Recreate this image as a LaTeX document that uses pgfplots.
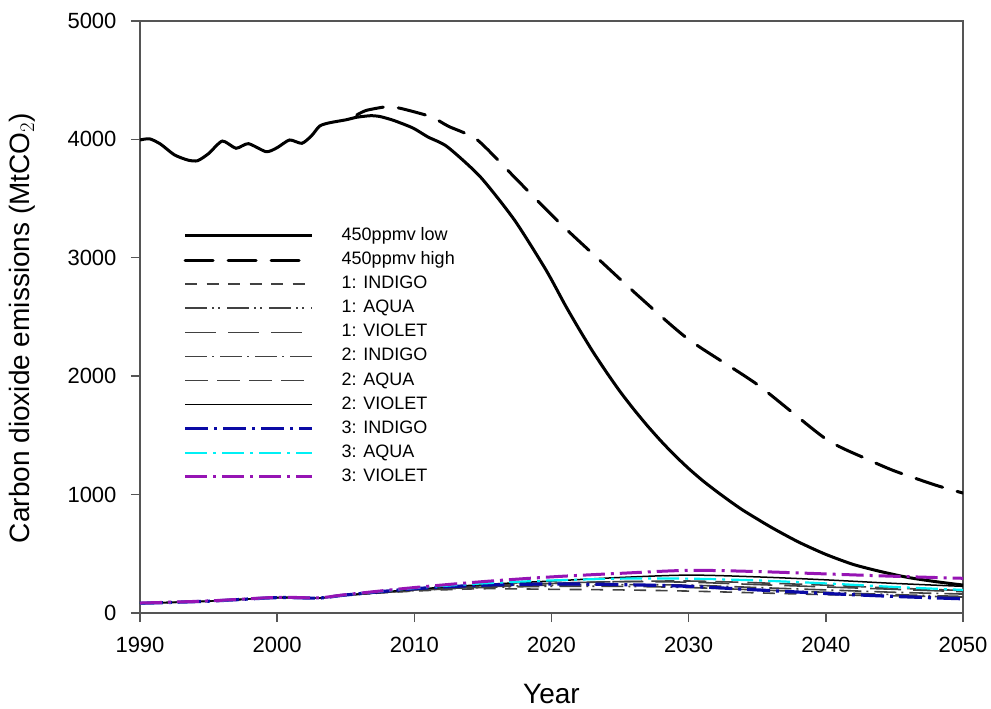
\documentclass[border=0pt]{standalone}
\usepackage{pgfplots}
\pgfplotsset{compat=1.18}
\usepackage{fontspec}
\setmainfont{Liberation Sans}
\definecolor{axgray}{RGB}{85,85,85}
\definecolor{lgray}{RGB}{65,65,65}
\definecolor{cindigo}{RGB}{10,10,165}
\definecolor{caqua}{RGB}{0,240,245}
\definecolor{cviolet}{RGB}{150,20,180}
\begin{document}
\begin{tikzpicture}
\begin{axis}[
  scale only axis,
  width=823pt, height=592pt,
  xmin=1990, xmax=2050, ymin=0, ymax=5000,
  xtick={1990,2000,...,2050}, ytick={0,1000,...,5000},
  xtick pos=bottom, ytick pos=left,
  tick align=outside, major tick length=9pt,
  axis line style={axgray, line width=1.4pt},
  every tick/.style={axgray, line width=1.4pt},
  /pgf/number format/assume math mode=true,
  /pgf/number format/1000 sep={},
  tick label style={font=\fontsize{22}{26}\selectfont},
  xticklabel style={yshift=-12pt},
  yticklabel style={xshift=-11pt},
  every axis x label/.style={at={(axis description cs:0.5,0)}, anchor=base, yshift=-91pt},
  every axis y label/.style={at={(axis description cs:0,0.5)}, xshift=-118pt, yshift=-11pt, rotate=90, anchor=center},
  label style={font=\fontsize{28}{32}\selectfont},
  xlabel={Year},
  ylabel={Carbon dioxide emissions (MtCO$_2$)},
  legend cell align=left,
  legend image code/.code={\draw[#1] (0pt,0pt) -- (127pt,0pt);},
  legend style={at={(rel axis cs:0.049,0.655)}, anchor=north west, draw=none, fill=none,
    font=\fontsize{18}{20}\selectfont, row sep=7.1pt, column sep=28pt,
    nodes={inner sep=0pt, text height=13pt, text depth=4pt}},
]
% 450ppmv low (historical + low)
\addplot[black, line width=3pt, smooth, tension=0.4] coordinates {
(1990,3995) (1990.7,4005) (1991.5,3960) (1992.5,3870) (1993.5,3825) (1994.2,3820)
(1995,3880) (1996,3986) (1997,3925) (1997.9,3964) (1999.2,3896) (2000,3930)
(2000.9,3995) (2001.8,3967) (2002.5,4030) (2003.1,4113) (2003.8,4140) (2005,4165)
(2005.8,4187) (2006.8,4200) (2007.5,4193) (2008.5,4160) (2009.9,4096) (2011,4020)
(2012.4,3938) (2014.8,3685) (2017.3,3319) (2019.6,2897) (2021,2600) (2022,2400)
(2023,2210) (2024,2035) (2025,1870) (2026,1720) (2027,1580) (2028,1450) (2029,1330)
(2030,1220) (2031,1120) (2032,1030) (2033,945) (2034,865) (2036,725) (2038,600)
(2040,495) (2042,410) (2044,350) (2046,300) (2048,265) (2050,236)};
\addlegendentry{450ppmv low}
% 450ppmv high
\addplot[black, line width=3pt, line cap=round, dash pattern=on 28pt off 15pt, smooth, tension=0.4] coordinates {
(2005.8,4206) (2006.5,4245) (2008,4276) (2009,4262) (2011.2,4192) (2012.5,4110)
(2014.6,3995) (2017.5,3657) (2020.6,3294) (2023.5,2981) (2026.4,2671) (2030,2310)
(2035,1930) (2040,1470) (2043,1300) (2045,1200) (2048,1080) (2050,1013)};
\addlegendentry{450ppmv high}
% 1: INDIGO
\addplot[lgray, line width=1.6pt, dash pattern=on 12pt off 9.5pt, smooth] coordinates {
(1990,82) (1995,100) (2000,130) (2003,126) (2005,150) (2010,185) (2015,205) (2020,200)
(2025,195) (2030,185) (2035,170) (2040,155) (2045,145) (2050,135)};
\addlegendentry{1: INDIGO}
% 1: AQUA
\addplot[lgray, line width=1.6pt, dash pattern=on 22pt off 5pt on 2pt off 4pt on 2pt off 7pt, smooth] coordinates {
(1990,82) (1995,100) (2000,130) (2003,126) (2005,150) (2010,190) (2015,215) (2020,225)
(2025,225) (2030,215) (2035,195) (2040,175) (2045,155) (2050,140)};
\addlegendentry{1: AQUA}
% 1: VIOLET
\addplot[lgray, line width=1.6pt, dash pattern=on 31pt off 12pt, smooth] coordinates {
(1990,82) (1995,100) (2000,130) (2003,126) (2005,150) (2010,195) (2015,225) (2020,250)
(2025,265) (2030,260) (2035,240) (2040,220) (2045,200) (2050,180)};
\addlegendentry{1: VIOLET}
% 2: INDIGO
\addplot[lgray, line width=1.6pt, dash pattern=on 22pt off 5pt on 2pt off 6pt, smooth] coordinates {
(1990,82) (1995,100) (2000,130) (2003,126) (2005,150) (2010,190) (2015,220) (2020,235)
(2025,240) (2030,235) (2035,215) (2040,195) (2045,175) (2050,160)};
\addlegendentry{2: INDIGO}
% 2: AQUA
\addplot[lgray, line width=1.6pt, dash pattern=on 23pt off 9pt, smooth] coordinates {
(1990,82) (1995,100) (2000,130) (2003,126) (2005,150) (2010,195) (2015,230) (2020,250)
(2025,265) (2030,270) (2035,255) (2040,235) (2045,210) (2050,190)};
\addlegendentry{2: AQUA}
% 2: VIOLET
\addplot[black, line width=1.5pt, smooth] coordinates {
(1990,82) (1995,100) (2000,130) (2003,126) (2005,150) (2010,200) (2015,240) (2020,270)
(2025,300) (2030,320) (2035,305) (2040,280) (2045,250) (2050,225)};
\addlegendentry{2: VIOLET}
% 3: INDIGO
\addplot[cindigo, line width=3.2pt, dash pattern=on 23pt off 6pt on 3pt off 6pt, smooth] coordinates {
(1990,82) (1995,100) (2000,130) (2003,126) (2005,152) (2010,205) (2015,235) (2020,245)
(2025,240) (2030,225) (2035,195) (2040,165) (2045,140) (2050,120)};
\addlegendentry{3: INDIGO}
% 3: AQUA
\addplot[caqua, line width=2.2pt, dash pattern=on 22pt off 6pt on 3pt off 6pt, smooth] coordinates {
(1990,82) (1995,100) (2000,130) (2003,126) (2005,153) (2010,210) (2015,250) (2020,275)
(2025,290) (2030,290) (2035,275) (2040,250) (2045,220) (2050,195)};
\addlegendentry{3: AQUA}
% 3: VIOLET
\addplot[cviolet, line width=3pt, dash pattern=on 22pt off 6pt on 3pt off 6pt, smooth] coordinates {
(1990,84) (1995,102) (2000,132) (2003,128) (2005,155) (2010,215) (2015,265) (2020,305)
(2025,335) (2030,360) (2035,350) (2040,330) (2045,310) (2050,293)};
\addlegendentry{3: VIOLET}
\end{axis}
\pgfresetboundingbox
\path[use as bounding box] (-140pt,-96pt) rectangle (851pt,613pt);
\end{tikzpicture}
\end{document}
